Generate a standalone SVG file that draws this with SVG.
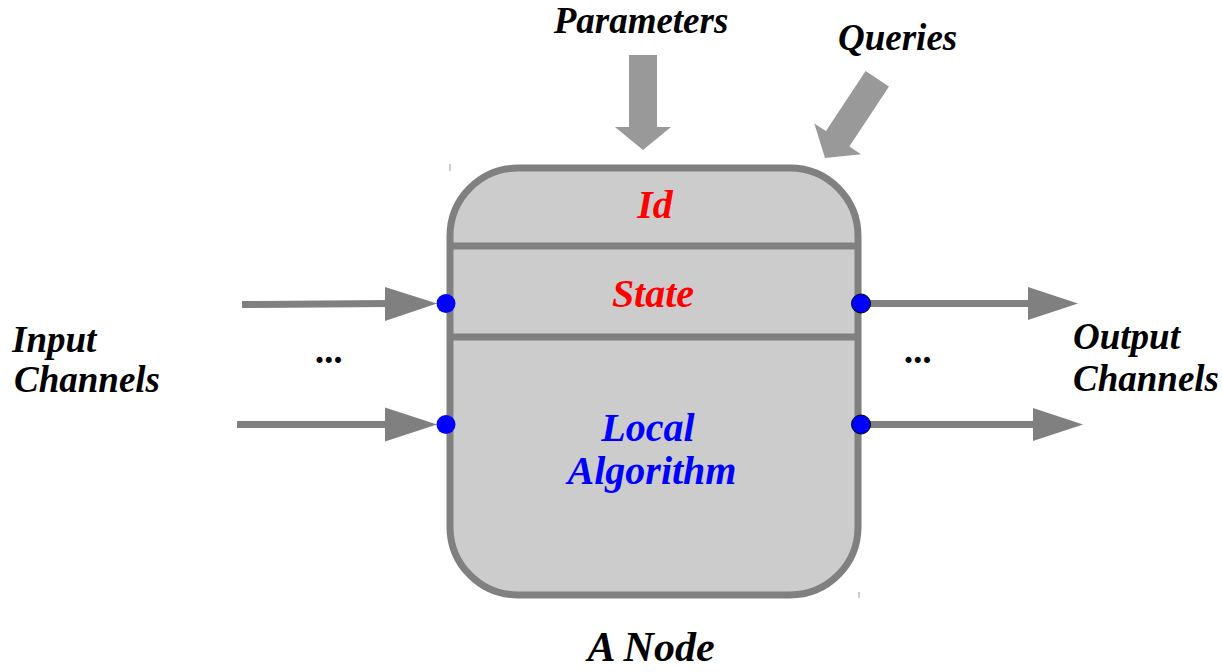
<svg xmlns="http://www.w3.org/2000/svg" width="1222" height="672" viewBox="0 0 1222 672">
<defs>
<style>
.t{font-family:"Liberation Serif","Times New Roman",serif;font-weight:bold;font-style:italic;}
.blk{fill:#000;font-size:37px;}
.red{fill:#ff0000;font-size:40px;}
.blue{fill:#0000ff;font-size:40px;}
.shaft{stroke:#808080;stroke-width:7;fill:none;}
.head{fill:#808080;}
.big{fill:#999999;}
.port{fill:#0000ff;}
</style>
<polygon id="bigArrow" points="-14,-95 14,-95 14,-23 28,-23 0,0 -28,-23 -14,-23"/>
</defs>
<rect width="1222" height="672" fill="#ffffff"/>

<g id="connectors">
  <g id="in1"><line class="shaft" x1="242" y1="304.5" x2="390" y2="303.5"/><polygon class="head" points="385,287 437,303.5 385,321"/></g>
  <g id="in2"><line class="shaft" x1="237" y1="424.5" x2="390" y2="424.5"/><polygon class="head" points="385,407.5 437,424.5 385,441.5"/></g>
  <g id="out1"><line class="shaft" x1="862" y1="303.5" x2="1032" y2="303.5"/><polygon class="head" points="1028,287 1078,303.5 1028,320"/></g>
  <g id="out2"><line class="shaft" x1="862" y1="424.5" x2="1036" y2="424.5"/><polygon class="head" points="1033,408 1083,424.5 1033,441"/></g>
  <use id="paramArrow" href="#bigArrow" class="big" transform="translate(643,150)"/>
  <use id="queryArrow" href="#bigArrow" class="big" transform="translate(825,158) rotate(33.4)"/>
</g>

<g id="node">
  <rect x="450" y="168" width="408" height="427" rx="68" ry="68" fill="#cccccc" stroke="#808080" stroke-width="7"/>
  <line x1="450" y1="246" x2="858" y2="246" stroke="#808080" stroke-width="7"/>
  <line x1="450" y1="337" x2="858" y2="337" stroke="#808080" stroke-width="7"/>
  <line x1="450" y1="164" x2="450" y2="171" stroke="#999" stroke-width="1"/>
  <line x1="859" y1="592" x2="859" y2="598" stroke="#999" stroke-width="1"/>
  <text class="t red" x="655" y="218" text-anchor="middle">Id</text>
  <text class="t red" x="653" y="307" text-anchor="middle">State</text>
  <text class="t blue" x="648" y="441" text-anchor="middle">Local</text>
  <text class="t blue" x="652" y="484" text-anchor="middle">Algorithm</text>
  <circle class="port" cx="446" cy="303.5" r="9.5"/>
  <circle class="port" cx="446" cy="424.5" r="9.5"/>
  <circle class="port" cx="861" cy="303.5" r="9.5" stroke="#000" stroke-width="1"/>
  <circle class="port" cx="861" cy="424.5" r="9.5" stroke="#000" stroke-width="1"/>
</g>

<g id="labels">
  <text class="t blk" x="641" y="33" text-anchor="middle">Parameters</text>
  <text class="t blk" x="838" y="50">Queries</text>
  <text class="t blk" x="12" y="352">Input</text>
  <text class="t blk" x="14" y="392">Channels</text>
  <text class="t blk" x="1073" y="349">Output</text>
  <text class="t blk" x="1073" y="391">Channels</text>
  <text class="t blk" x="330" y="363" text-anchor="middle">...</text>
  <text class="t blk" x="919" y="363" text-anchor="middle">...</text>
  <text class="t" x="651" y="661" text-anchor="middle" font-size="42" fill="#000">A Node</text>
</g>
</svg>
